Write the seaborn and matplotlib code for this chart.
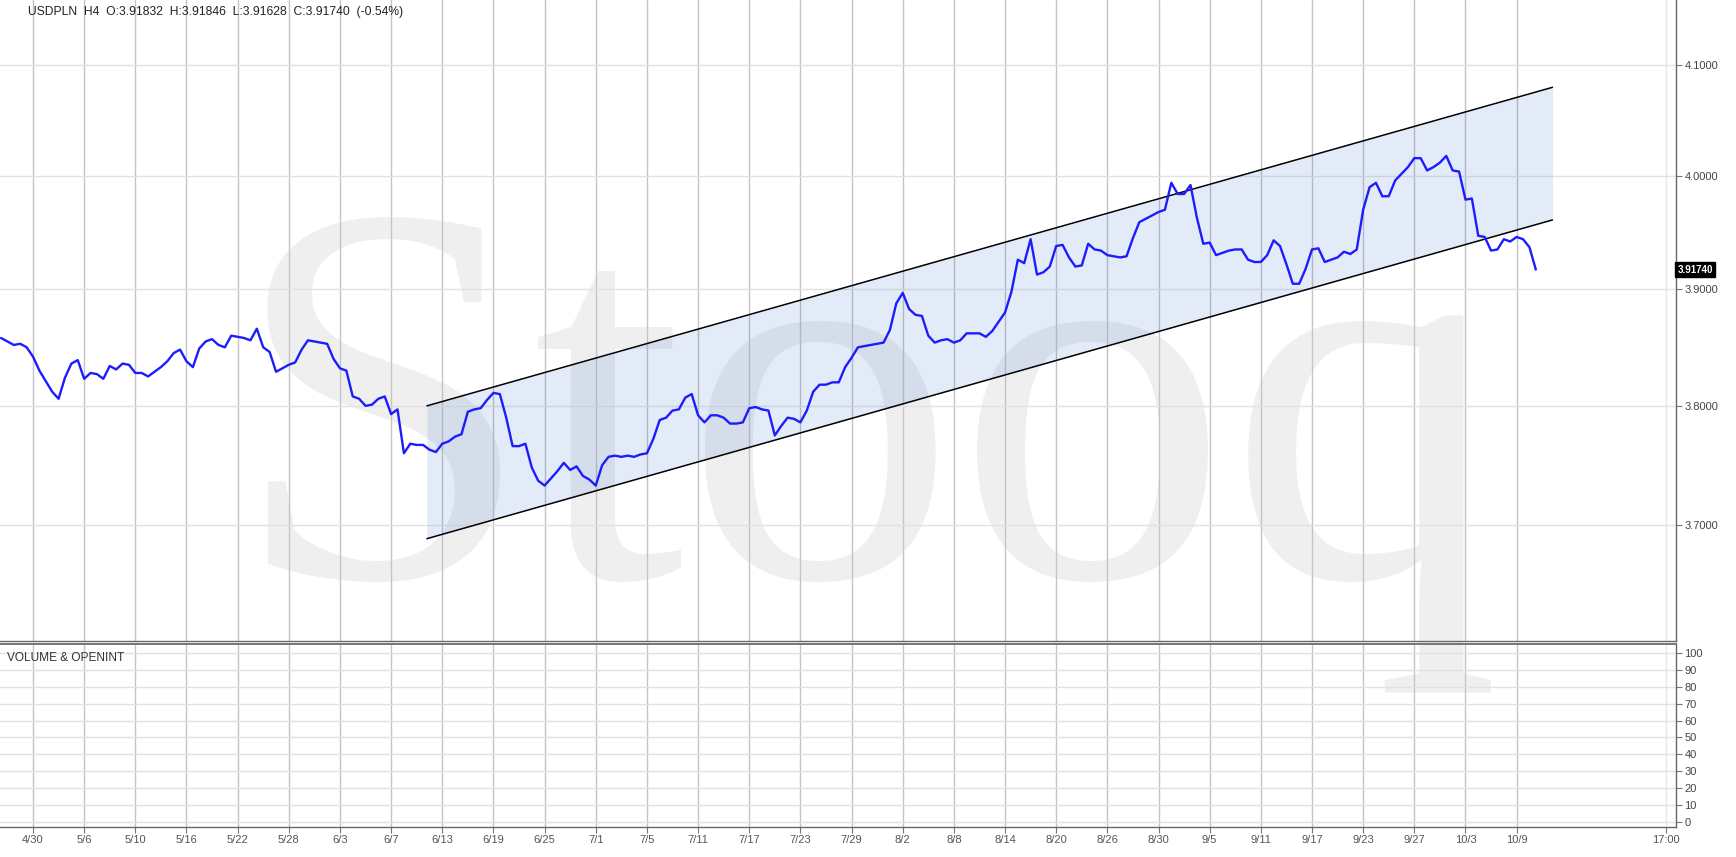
import numpy as np
import pandas as pd
import matplotlib
matplotlib.use("Agg")
import matplotlib.pyplot as plt
import matplotlib.transforms as mtransforms
from matplotlib.ticker import FixedLocator, FixedFormatter, NullLocator
import seaborn as sns

# USDPLN H4 - half-day closes
# x is counted in trading days, 4/30 = 0
start_day = -2.5
step_day = 0.5
close = [
    3.858, 3.855, 3.852, 3.853, 3.850, 3.842, 3.830, 3.821, 3.812, 3.806,
    3.824, 3.836, 3.839, 3.823, 3.828, 3.827, 3.823, 3.834, 3.831, 3.836,
    3.835, 3.828, 3.828, 3.825, 3.829, 3.833, 3.838, 3.845, 3.848, 3.838,
    3.833, 3.849, 3.855, 3.857, 3.852, 3.850, 3.860, 3.859, 3.858, 3.856,
    3.866, 3.850, 3.846, 3.829, 3.832, 3.835, 3.837, 3.848, 3.856, 3.855,
    3.854, 3.853, 3.840, 3.832, 3.830, 3.808, 3.806, 3.800, 3.801, 3.806,
    3.808, 3.793, 3.797, 3.760, 3.768, 3.767, 3.767, 3.763, 3.761, 3.768,
    3.770, 3.774, 3.776, 3.795, 3.797, 3.798, 3.805, 3.811, 3.810, 3.790,
    3.766, 3.766, 3.768, 3.748, 3.737, 3.733, 3.739, 3.745, 3.752, 3.746,
    3.749, 3.741, 3.738, 3.733, 3.750, 3.757, 3.758, 3.757, 3.758, 3.757,
    3.759, 3.760, 3.772, 3.788, 3.790, 3.796, 3.797, 3.807, 3.810, 3.792,
    3.786, 3.792, 3.792, 3.790, 3.785, 3.785, 3.786, 3.798, 3.799, 3.797,
    3.796, 3.775, 3.783, 3.790, 3.789, 3.786, 3.796, 3.812, 3.818, 3.818,
    3.820, 3.820, 3.833, 3.841, 3.850, 3.851, 3.852, 3.853, 3.854, 3.865,
    3.888, 3.897, 3.883, 3.878, 3.877, 3.860, 3.854, 3.856, 3.857, 3.854,
    3.856, 3.862, 3.862, 3.862, 3.859, 3.864, 3.872, 3.880, 3.898, 3.926,
    3.923, 3.944, 3.913, 3.915, 3.920, 3.938, 3.939, 3.928, 3.920, 3.921,
    3.940, 3.935, 3.934, 3.930, 3.929, 3.928, 3.929, 3.945, 3.959, 3.962,
    3.965, 3.968, 3.970, 3.994, 3.984, 3.984, 3.992, 3.963, 3.940, 3.941,
    3.930, 3.932, 3.934, 3.935, 3.935, 3.926, 3.924, 3.924, 3.930, 3.943,
    3.938, 3.922, 3.905, 3.905, 3.918, 3.935, 3.936, 3.924, 3.926, 3.928,
    3.933, 3.931, 3.935, 3.970, 3.990, 3.994, 3.982, 3.982, 3.996, 4.002,
    4.008, 4.016, 4.016, 4.005, 4.008, 4.012, 4.018, 4.005, 4.004, 3.979,
    3.980, 3.947, 3.946, 3.934, 3.935, 3.944, 3.942, 3.946, 3.944, 3.937,
    3.9174,
]

tick_labels = ['4/30', '5/6', '5/10', '5/16', '5/22', '5/28', '6/3', '6/7',
               '6/13', '6/19', '6/25', '7/1', '7/5', '7/11', '7/17', '7/23',
               '7/29', '8/2', '8/8', '8/14', '8/20', '8/26', '8/30', '9/5',
               '9/11', '9/17', '9/23', '9/27', '10/3', '10/9']
tick_days = [4 * k for k in range(len(tick_labels))]
end_day = 127.7
end_label = '17:00'

# trend channel (trading days, price)
channel_days = [30.8, 118.8]
channel_upper = [3.800, 4.080]
channel_lower = [3.689, 3.961]

price_ticks = [3.7, 3.8, 3.9, 4.0, 4.1]
volume_ticks = list(range(0, 101, 10))
last_close = 3.91740
header = "USDPLN  H4  O:3.91832  H:3.91846  L:3.91628  C:3.91740  (-0.54%)"

df = pd.DataFrame({'day': start_day + step_day * np.arange(len(close)),
                   'close': close})

sns.set_theme(style='white')
plt.rcParams['font.family'] = ['Liberation Sans', 'DejaVu Sans']

W, H = 1736, 857
fig = plt.figure(figsize=(W / 100, H / 100), dpi=100)
fig.patch.set_facecolor('white')

ax = fig.add_axes([0, 1 - 641 / H, 1676 / W, 641 / H])
axv = fig.add_axes([0, 1 - 827 / H, 1676 / W, (827 - 644) / H], sharex=ax)
for a in (ax, axv):
    a.set_facecolor('none')
    a.set_axisbelow(True)
    for s in ('left', 'top'):
        a.spines[s].set_visible(False)
    for s in ('right', 'bottom'):
        a.spines[s].set_color('#666666')
        a.spines[s].set_linewidth(1.0)
axv.spines['top'].set_visible(True)
axv.spines['top'].set_color('#666666')

# big "Stooq" watermark behind both panels
fig.text(866 / W, 1 - 576 / H, 'Stooq', family='Liberation Serif',
         fontsize=392, color='#efefef', ha='center', va='baseline', zorder=-1)

# channel
ax.fill_between(channel_days, channel_lower, channel_upper,
                color='#447ad7', alpha=0.15, lw=0, zorder=1)
ax.plot(channel_days, channel_upper, color='black', lw=1.1, zorder=3)
ax.plot(channel_days, channel_lower, color='black', lw=1.1, zorder=3)

sns.lineplot(data=df, x='day', y='close', ax=ax, color='#1c1cff',
             lw=1.7, estimator=None, zorder=4)

ax.set_yscale('log')
ax.set_ylim(3.6057, 4.1603)
ax.set_xlim(-2.58, 128.46)
ax.yaxis.set_major_locator(FixedLocator(price_ticks))
ax.yaxis.set_major_formatter(FixedFormatter([f'{v:.4f}' for v in price_ticks]))
ax.yaxis.set_minor_locator(NullLocator())
ax.yaxis.tick_right()
ax.set_xlabel('')
ax.set_ylabel('')

all_ticks = tick_days + [end_day]
axv.xaxis.set_major_locator(FixedLocator(all_ticks))
axv.xaxis.set_major_formatter(FixedFormatter(tick_labels + [end_label]))
ax.tick_params(axis='x', which='both', bottom=False, labelbottom=False)

axv.set_ylim(-3, 105.3)
axv.yaxis.set_major_locator(FixedLocator(volume_ticks))
axv.yaxis.set_major_formatter(FixedFormatter([str(v) for v in volume_ticks]))
axv.yaxis.tick_right()

for a in (ax, axv):
    a.grid(axis='x', color='#c4c4c4', lw=1.0)
    a.grid(axis='y', color='#e2e2e2', lw=1.0)
    a.tick_params(axis='y', right=True, length=4, width=0.8, color='#777777',
                  labelsize=8, labelcolor='#444444', pad=2)
    a.xaxis.get_gridlines()[-1].set_color('#e6e6e6')
axv.tick_params(axis='x', bottom=True, length=4, width=0.8, color='#777777',
                labelsize=8, labelcolor='#555555', pad=2)

# last price tag on the price axis
tag_tr = mtransforms.blended_transform_factory(ax.transAxes, ax.transData)
ax.text(1.001, last_close, f'{last_close:.5f}', transform=tag_tr,
        ha='left', va='center', color='white', fontsize=7, fontweight='bold',
        bbox=dict(boxstyle='square,pad=0.25', fc='black', ec='black'),
        zorder=6, clip_on=False)

fig.text(28 / W, 1 - 12 / H, header, ha='left', va='center',
         fontsize=8.7, color='#222222')
fig.text(7 / W, 1 - 658 / H, 'VOLUME & OPENINT', ha='left', va='center',
         fontsize=8.6, color='#333333')

fig.savefig('out.png', dpi=100, facecolor='white')
